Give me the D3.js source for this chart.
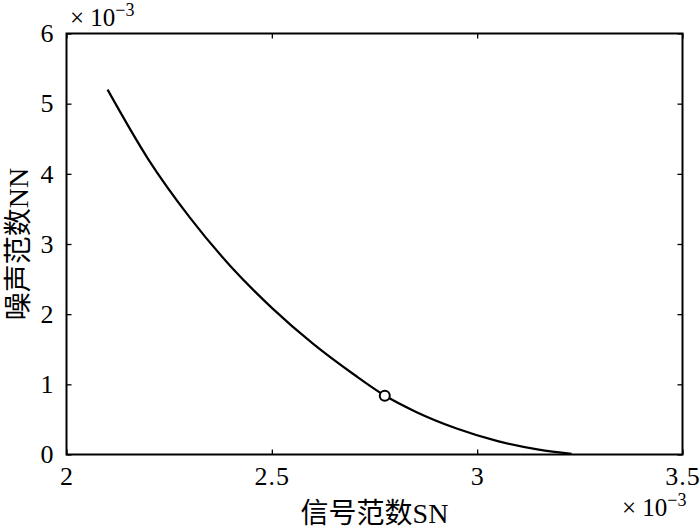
<!DOCTYPE html>
<meta charset="utf-8">
<style>
    body { margin: 0; background: #fff; }
    text { font-family: 'Liberation Serif', 'Times New Roman', serif; fill: #000; }
    .cjk { font-family: 'Liberation Serif', 'Noto Sans CJK SC', serif; }
</style>
<body>
<svg width="700" height="529" id="chart"></svg>
<script src="https://d3js.org/d3.v7.min.js"></script>
<script>

    // values in units of 1e-3
    var snValues = [2.10, 2.20, 2.30, 2.40, 2.50, 2.60, 2.70, 2.775, 2.85, 2.95, 3.05, 3.15, 3.23];
    var nnValues = [5.20, 4.20, 3.38, 2.68, 2.09, 1.58, 1.14, 0.84, 0.61, 0.37, 0.19, 0.07, 0.01];
    var marker = {sn: 2.775, nn: 0.836};
    var xTicks = [2, 2.5, 3, 3.5];
    var yTicks = [0, 1, 2, 3, 4, 5, 6];

    var svg = d3.select("svg"),
        margin = {top: 33.5, right: 17.5, bottom: 74.5, left: 66.5},
        width = 700 - margin.left - margin.right,
        height = 529 - margin.top - margin.bottom,
        g = svg.append("g").attr("transform", "translate(" + margin.left + "," + margin.top + ")");

    var x = d3.scaleLinear().domain([2, 3.5]).range([0, width]);
    var y = d3.scaleLinear().domain([0, 6]).range([height, 0]);

    var tickLen = 5;
    var serif = "'Liberation Serif', 'Times New Roman', serif";

    // ticks, inward on all four sides
    function axisStyle(sel) {
        sel.attr("font-family", serif).attr("font-size", 26);
        sel.select(".domain").remove();
        sel.selectAll("line").attr("stroke", "#000").attr("stroke-width", 1.3);
        sel.selectAll("text").attr("font-family", serif).style("font-size", "26px").style("letter-spacing", "1px");
    }

    g.append("g").attr("transform", "translate(0," + height + ")")
        .call(d3.axisBottom(x).tickValues(xTicks).tickSize(-tickLen).tickPadding(12).tickFormat(d3.format("")))
        .call(axisStyle);

    g.append("g")
        .call(d3.axisTop(x).tickValues(xTicks).tickSize(-tickLen).tickFormat(""))
        .call(axisStyle);

    g.append("g")
        .call(d3.axisLeft(y).tickValues(yTicks).tickSize(-tickLen).tickPadding(12).tickFormat(d3.format("")))
        .call(axisStyle);

    g.append("g").attr("transform", "translate(" + width + ",0)")
        .call(d3.axisRight(y).tickValues(yTicks).tickSize(-tickLen).tickFormat(""))
        .call(axisStyle);

    // box
    g.append("rect")
        .attr("width", width).attr("height", height)
        .attr("fill", "none").attr("stroke", "#000").attr("stroke-width", 2);

    // curve
    var pts = snValues.map(function(d, i) { return [d, nnValues[i]]; });
    var line = d3.line()
        .x(function(d) { return x(d[0]); })
        .y(function(d) { return y(d[1]); })
        .curve(d3.curveMonotoneX);

    g.append("path")
        .datum(pts)
        .attr("d", line)
        .attr("fill", "none")
        .attr("stroke", "#000")
        .attr("stroke-width", 2.2);

    g.append("circle")
        .attr("cx", x(marker.sn)).attr("cy", y(marker.nn)).attr("r", 5)
        .attr("fill", "#fff").attr("stroke", "#000").attr("stroke-width", 2);

    // exponent labels
    function expLabel(px, py) {
        var t = svg.append("text").attr("x", px).attr("y", py).style("font-size", "25px");
        t.append("tspan").text("\u00d7 10");
        t.append("tspan").attr("dy", -10).style("font-size", "18px").text("\u22123");
    }
    expLabel(70, 26);
    expLabel(622, 516);

    // axis titles
    svg.append("text")
        .attr("class", "cjk")
        .attr("x", margin.left + width / 2)
        .attr("y", 523)
        .attr("text-anchor", "middle")
        .style("font-size", "28px")
        .text("信号范数SN");

    svg.append("text")
        .attr("class", "cjk")
        .attr("transform", "translate(28," + (margin.top + height / 2) + ") rotate(-90)")
        .attr("text-anchor", "middle")
        .style("font-size", "28px")
        .text("噪声范数NN");

</script>
</body>
